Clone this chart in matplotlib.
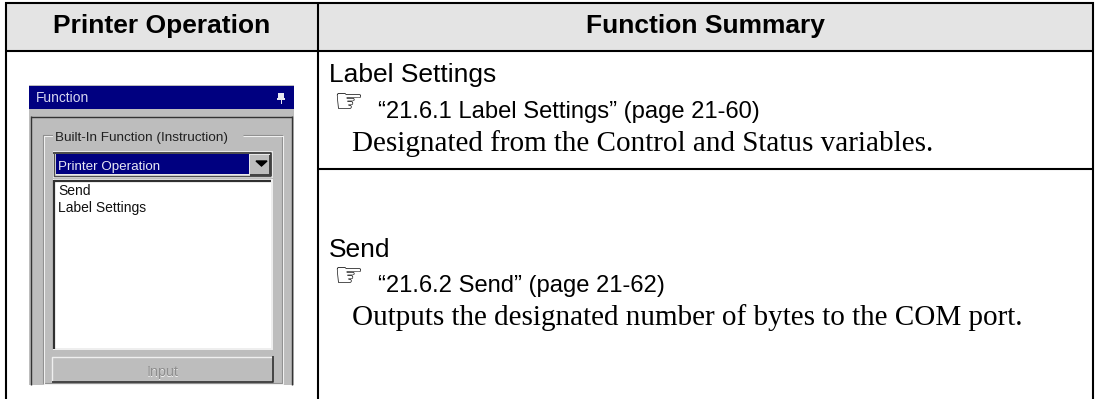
import matplotlib
matplotlib.use('Agg')
import matplotlib.pyplot as plt
from matplotlib.patches import Rectangle

headers = ['Printer Operation', 'Function Summary']
titles = ['Label Settings', 'Send']
refs = ['\u201c21.6.1 Label Settings\u201d (page 21-60)', '\u201c21.6.2 Send\u201d (page 21-62)']
notes = ['Designated from the Control and Status variables.',
         'Outputs the designated number of bytes to the COM port.']
list_items = ['Send', 'Label Settings']

W, H = 1095, 399
SANS = 'Liberation Sans'
SERIF = 'Liberation Serif'
NAVY = '#000080'
GREY = '#bdbdbd'

fig = plt.figure(figsize=(W / 100, H / 100), dpi=100)
ax = fig.add_axes([0, 0, 1, 1])
ax.set_xlim(0, W)
ax.set_ylim(H, 0)
ax.axis('off')


def box(x0, y0, x1, y1, color, z=2):
    ax.add_patch(Rectangle((x0, y0), x1 - x0, y1 - y0, fc=color, ec='none', zorder=z))


def line(xs, ys, color='black', lw=1.0, z=3):
    ax.plot(xs, ys, color=color, lw=lw, solid_capstyle='butt', zorder=z)


# table
box(6, 3, 1093, 51, '#e4e4e4', 1)
for xs, ys in [([5, 1094], [3, 3]), ([5, 1094], [51, 51]), ([318, 1094], [168.5, 168.5]),
               ([6, 6], [2, 399]), ([318, 318], [2, 399]), ([1093, 1093], [2, 399])]:
    line(xs, ys, lw=1.5)

ax.text(162, 33.5, headers[0], family=SANS, weight='bold', size=19, ha='center', va='baseline')
ax.text(705.5, 33.5, headers[1], family=SANS, weight='bold', size=19, ha='center', va='baseline')

# right column text, baselines per row
for title, ref, note, ys in zip(titles, refs, notes, [(82, 118, 151), (257, 292, 325)]):
    ax.text(329, ys[0], title, family=SANS, size=19, va='baseline')
    ax.text(333, ys[1] - 15, '\u261e', family='DejaVu Sans', size=24, va='center')
    ax.text(378, ys[1], ref, family=SANS, size=17.1, va='baseline')
    ax.text(352, ys[2], note, family=SERIF, size=21, va='baseline')

# screenshot panel
box(29, 85, 294, 385, GREY)
box(29, 86, 294, 109, NAVY, 3)
ax.text(36, 101.5, 'Function', family=SANS, size=9.9, color='#d8d8f0', va='baseline', zorder=4)
box(278, 93, 284, 99, '#e8e8f4', 4)
box(277, 98, 285, 99.5, '#e8e8f4', 4)
box(280.5, 99, 281.5, 104, '#e8e8f4', 4)

# inner frame
line([30.5, 30.5], [116, 385], '#333333', 1.0)
line([30.5, 292], [116.5, 116.5], '#333333', 1.0)
line([292, 292], [116, 385], '#333333', 1.0)

# group box
for c, off in [('#8c8c8c', 0), ('#f0f0f0', 1)]:
    line([53, 42.5 + off, 42.5 + off, 282 + off, 282 + off, 243],
         [134.5 + off, 134.5 + off, 383 + off, 383 + off, 134.5 + off, 134.5 + off], c, 0.8)
box(53, 130, 243, 140, GREY, 3)
ax.text(55, 141.5, 'Built-In Function (Instruction)', family=SANS, size=9.7, color='#202020', va='baseline', zorder=4)

# combo box
box(53, 151, 273, 178, '#e8e8e8')
line([53, 271, 271], [152.5, 152.5, 175.5], '#303030', 1.2)
line([53.5, 53.5, 271], [152, 175.5, 175.5], '#505050', 1.0)
box(56, 154, 249, 174, NAVY, 3)
ax.text(58, 170, 'Printer Operation', family=SANS, size=9.6, color='#e8e8f4', va='baseline', zorder=4)
box(250, 155, 270, 174, GREY, 3)
line([250, 270, 270], [174.5, 174.5, 155], '#404040', 1.4, 4)
ax.fill([256, 267, 261.5], [161, 161, 166], color='black', zorder=5)

# list box
box(53, 179, 273, 350, '#eeeeee')
box(55, 181, 271, 348, 'white', 3)
line([54, 54], [180, 349], '#303030', 1.6, 4)
line([54, 271], [180.5, 180.5], '#303030', 1.6, 4)
for item, y in zip(list_items, [195, 212]):
    ax.text(58, y, item, family=SANS, size=10, color='#101010', va='baseline', zorder=4)

# input button
box(52, 357, 273, 382, GREY, 3)
line([52, 52, 272], [382, 356.5, 356.5], '#efefef', 1.0, 4)
line([52, 272.5, 272.5], [381.5, 381.5, 356], '#303030', 1.2, 4)
ax.text(162.7, 376.5, 'Input', family=SANS, size=10.3, color='#f0f0f0', ha='center', va='baseline', zorder=4)
ax.text(162.2, 376, 'Input', family=SANS, size=10.3, color='#8e8e8e', ha='center', va='baseline', zorder=5)

fig.savefig('out.png', dpi=100)
